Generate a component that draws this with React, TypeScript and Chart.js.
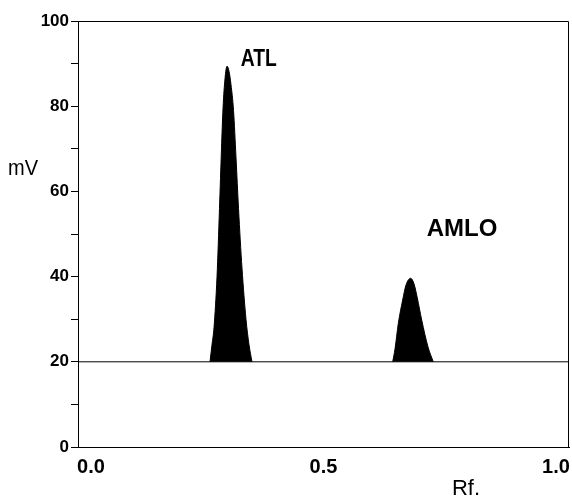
import React, { useEffect, useRef } from "react";
import { Chart, registerables } from "chart.js";

Chart.register(...registerables);

// ---- data ----
const xTickValues = [0, 0.5, 1.0];
const yMajorTicks = [0, 20, 40, 60, 80, 100];
const baselineMv = 20;

const atlRf = [0.2559, 0.2602, 0.2645, 0.271, 0.2763, 0.2806, 0.2839, 0.2882, 0.2925, 0.2968, 0.3011, 0.3065, 0.3118, 0.3172, 0.3247, 0.3333, 0.3398, 0.3462];
const atlMv = [20, 24, 28, 40, 56, 70, 79.5, 86.5, 89.4, 88.2, 85, 79, 68, 56, 42, 30, 24, 20];

const amloRf = [0.6488, 0.6538, 0.6609, 0.6703, 0.6774, 0.6875, 0.6946, 0.7017, 0.7112, 0.7247, 0.7361];
const amloMv = [20, 23, 29, 34.5, 38, 39.6, 38.3, 35, 29.8, 23.5, 20];

const peakLabels = ["ATL", "AMLO"];
const peakLabelRf = [0.322, 0.722];
const peakLabelMv = [91.1, 51.2];

const X_MIN = -0.028;
const X_MAX = 1.028;

const FONT = "'Liberation Sans', Arial, sans-serif";

const textPlugin = {
  id: "textPlugin",
  afterDraw(chart: any) {
    const { ctx, chartArea, scales } = chart;
    const { left, right, top, bottom } = chartArea;
    ctx.save();
    ctx.strokeStyle = "#000";
    ctx.lineWidth = 1;
    ctx.beginPath();
    ctx.moveTo(left, top + 0.5);
    ctx.lineTo(right - 0.5, top + 0.5);
    ctx.lineTo(right - 0.5, bottom);
    ctx.stroke();

    ctx.fillStyle = "#000";
    ctx.textBaseline = "middle";
    ctx.textAlign = "left";
    ctx.font = `bold 24px ${FONT}`;
    const widths = [36, 75];
    peakLabels.forEach((t, i) => {
      const x = scales.x.getPixelForValue(peakLabelRf[i]);
      const y = scales.y.getPixelForValue(peakLabelMv[i]);
      ctx.fillText(t, x, y, widths[i]);
    });

    ctx.font = `22px ${FONT}`;
    ctx.textAlign = "center";
    ctx.fillText("mV", 23, 169, 30);
    ctx.fillText("Rf.", 466, 489, 30);
    ctx.restore();
  },
};

export default function App() {
  const ref = useRef<HTMLCanvasElement>(null);

  useEffect(() => {
    document.body.style.margin = "0";
    const canvas = ref.current!;
    const chart = new Chart(canvas, {
      type: "line",
      data: {
        datasets: [
          {
            label: "baseline",
            data: [
              { x: X_MIN, y: baselineMv },
              { x: X_MAX, y: baselineMv },
            ],
            borderColor: "#000",
            borderWidth: 1,
            pointRadius: 0,
            fill: false,
          },
          {
            label: "ATL",
            data: atlRf.map((x, i) => ({ x, y: atlMv[i] })),
            borderColor: "#000",
            backgroundColor: "#000",
            borderWidth: 1,
            pointRadius: 0,
            cubicInterpolationMode: "monotone",
            fill: { value: baselineMv },
          },
          {
            label: "AMLO",
            data: amloRf.map((x, i) => ({ x, y: amloMv[i] })),
            borderColor: "#000",
            backgroundColor: "#000",
            borderWidth: 1,
            pointRadius: 0,
            cubicInterpolationMode: "monotone",
            fill: { value: baselineMv },
          },
        ] as any,
      },
      options: {
        animation: false,
        responsive: false,
        maintainAspectRatio: false,
        layout: { padding: { top: 21, right: 3, left: 0, bottom: 0 } },
        plugins: {
          legend: { display: false },
          tooltip: { enabled: false },
        },
        scales: {
          x: {
            type: "linear",
            min: X_MIN,
            max: X_MAX,
            afterBuildTicks: (scale: any) => {
              scale.ticks = xTickValues.map((v) => ({ value: v }));
            },
            afterFit: (scale: any) => {
              scale.height = 52;
              scale.paddingLeft = 0;
              scale.paddingRight = 0;
            },
            grid: { display: false, drawTicks: false },
            border: { display: true, color: "#000", width: 1 },
            ticks: {
              color: "#000",
              padding: 8,
              maxRotation: 0,
              autoSkip: false,
              font: { family: FONT, size: 20, weight: "bold" },
              callback: (v: any) => Number(v).toFixed(1),
            },
          },
          y: {
            type: "linear",
            min: 0,
            max: 100,
            afterFit: (scale: any) => {
              scale.width = 78;
              scale.paddingTop = 0;
              scale.paddingBottom = 0;
            },
            grid: {
              display: true,
              drawOnChartArea: false,
              drawTicks: true,
              tickLength: 7,
              color: "#000",
            },
            border: { display: true, color: "#000", width: 1 },
            ticks: {
              stepSize: 10,
              color: "#000",
              padding: 2,
              autoSkip: false,
              font: { family: FONT, size: 17, weight: "bold" },
              callback: (v: any) => (yMajorTicks.includes(Number(v)) ? String(v) : ""),
            },
          },
        },
      },
      plugins: [textPlugin],
    });
    return () => chart.destroy();
  }, []);

  return (
    <div style={{ width: 572, height: 499 }}>
      <canvas ref={ref} width={572} height={499} style={{ display: "block" }} />
    </div>
  );
}
